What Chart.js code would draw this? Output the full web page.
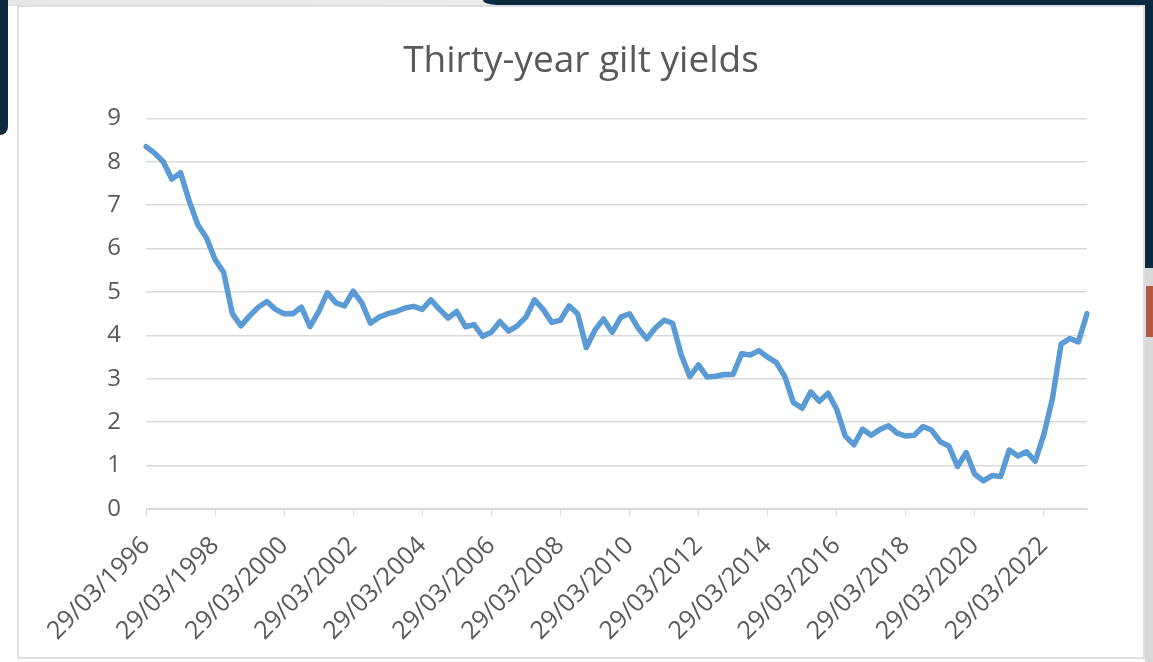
<!DOCTYPE html>
<html>
<head>
<meta charset="utf-8">
<script src="https://cdn.jsdelivr.net/npm/chart.js@4"></script>
<style>
  html, body { margin: 0; padding: 0; }
  body { width: 1153px; height: 662px; position: relative; overflow: hidden; background: #ffffff; }
  .topstrip { position: absolute; left: 0; top: 0; width: 1153px; height: 6px; background: linear-gradient(to right, #e6e6e6, #f2f2f2); }
  .navy-top { position: absolute; left: 483px; top: 0; width: 670px; height: 5px; background: #0b2a40; border-bottom-left-radius: 14px 5px; }
  .navy-left { position: absolute; left: 0; top: 0; width: 8px; height: 135px; background: #0b2a40; border-bottom-right-radius: 8px; }
  .navy-right { position: absolute; left: 1145px; top: 0; width: 8px; height: 268px; background: #0b2a40; }
  .gray-right { position: absolute; left: 1145px; top: 268px; width: 8px; height: 394px; background: #d9d9d9; }
  .red-right { position: absolute; left: 1146px; top: 286px; width: 7px; height: 51px; background: #b35a40; }
  .box { position: absolute; left: 17px; top: 5px; width: 1128px; height: 654px; box-sizing: border-box; border: 2px solid #dedede; background: #fff; }
  .wrap { position: absolute; left: 19px; top: 7px; width: 1124px; height: 650px; }
</style>
</head>
<body>
<div class="topstrip"></div>
<div class="navy-top"></div>
<div class="navy-left"></div>
<div class="navy-right"></div>
<div class="gray-right"></div>
<div class="red-right"></div>
<div class="box"></div>
<div class="wrap"><canvas id="giltChart"></canvas></div>
<script>
// --- dados: rendimento dos gilts a 30 anos (trimestral) ---
const firstYear = 1996;
const quarterDays = ['29/03', '29/06', '29/09', '29/12'];
const pointCount = 110;

const yields = [
    8.35, 8.2, 8.0, 7.6, 7.75, 7.1, 6.55, 6.25, 5.75, 5.45,
    4.5, 4.22, 4.45, 4.65, 4.78, 4.6, 4.5, 4.5, 4.65, 4.2,
    4.55, 4.98, 4.75, 4.68, 5.02, 4.75, 4.28, 4.42, 4.5, 4.55,
    4.63, 4.67, 4.6, 4.82, 4.6, 4.4, 4.55, 4.2, 4.25, 3.98,
    4.07, 4.32, 4.1, 4.22, 4.42, 4.82, 4.6, 4.3, 4.35, 4.68,
    4.5, 3.72, 4.12, 4.38, 4.07, 4.42, 4.5, 4.17, 3.92, 4.17,
    4.35, 4.28, 3.55, 3.05, 3.32, 3.04, 3.06, 3.1, 3.1, 3.58,
    3.55, 3.65, 3.5, 3.38, 3.05, 2.45, 2.32, 2.7, 2.48, 2.67,
    2.3, 1.68, 1.48, 1.84, 1.7, 1.83, 1.92, 1.75, 1.68, 1.7,
    1.9, 1.82, 1.55, 1.45, 0.98, 1.3, 0.8, 0.65, 0.77, 0.75,
    1.36, 1.22, 1.32, 1.1, 1.72, 2.55, 3.8, 3.93, 3.85, 4.5
];

const yTicks = [0, 1, 2, 3, 4, 5, 6, 7, 8, 9];
const labelEvery = 8;

const dates = [];
for (let i = 0; i < pointCount; i++) {
    dates.push(quarterDays[i % 4] + '/' + (firstYear + Math.floor(i / 4)));
}

const textGray = '#595959';
const gridGray = '#d9d9d9';

new Chart(document.getElementById('giltChart'), {
    type: 'line',
    data: {
        labels: dates,
        datasets: [{
            label: 'Thirty-year gilt yields',
            data: yields,
            borderColor: '#5b9bd5',
            borderWidth: 5.5,
            borderJoinStyle: 'round',
            borderCapStyle: 'round',
            pointRadius: 0,
            tension: 0,
            fill: false
        }]
    },
    options: {
        responsive: true,
        maintainAspectRatio: false,
        animation: false,
        layout: {
            autoPadding: false,
            // mesma margem dos dois lados para o título ficar centrado na caixa
            padding: { left: 56, right: 56, top: 0, bottom: 0 }
        },
        scales: {
            x: {
                offset: false,
                afterFit: (scale) => { scale.height = 148; },
                grid: {
                    drawOnChartArea: false,
                    drawTicks: true,
                    tickLength: 7,
                    color: (ctx) => (ctx.index % labelEvery === 0 ? gridGray : 'rgba(0,0,0,0)')
                },
                border: { display: true, color: gridGray, width: 1 },
                ticks: {
                    autoSkip: false,
                    minRotation: 45,
                    maxRotation: 45,
                    padding: 15,
                    labelOffset: 0,
                    color: textGray,
                    font: { family: '"Open Sans"', size: 25 },
                    callback: function(value, index) {
                        return index % labelEvery === 0 ? this.getLabelForValue(value) : '';
                    }
                }
            },
            y: {
                min: yTicks[0],
                max: yTicks[yTicks.length - 1],
                afterFit: (scale) => { scale.width = 71; },
                afterBuildTicks: (scale) => { scale.ticks = yTicks.map(v => ({ value: v })); },
                grid: {
                    color: gridGray,
                    lineWidth: 1.5,
                    drawTicks: false
                },
                border: { display: false },
                ticks: {
                    padding: 25,
                    color: textGray,
                    font: { family: '"Open Sans"', size: 24 }
                }
            }
        },
        plugins: {
            legend: { display: false },
            tooltip: { enabled: false },
            title: {
                display: true,
                text: 'Thirty-year gilt yields',
                color: textGray,
                font: { family: '"Open Sans"', size: 37, weight: 'normal' },
                padding: { top: 32, bottom: 35 }
            }
        }
    }
});
</script>
</body>
</html>
